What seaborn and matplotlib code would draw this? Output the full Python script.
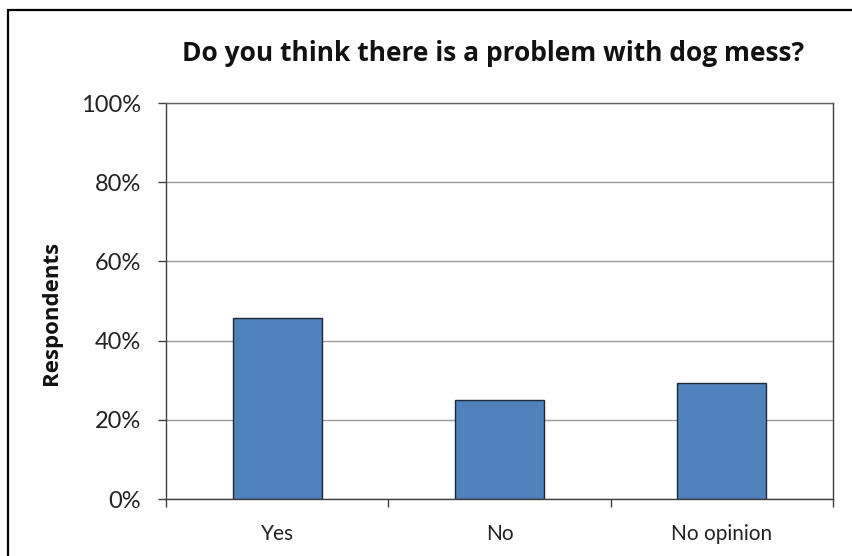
import matplotlib
matplotlib.use("Agg")
import matplotlib.pyplot as plt
import matplotlib.ticker as mticker
from matplotlib.patches import Rectangle
import seaborn as sns
import pandas as pd

categories = ["Yes", "No", "No opinion"]
values = [45.8, 25.0, 29.2]
yticks = [0, 20, 40, 60, 80, 100]
title = "Do you think there is a problem with dog mess?"
ylabel = "Respondents"

sns.set_theme(style="white")
plt.rcParams['font.family'] = ['Lato', 'DejaVu Sans']

df = pd.DataFrame({"cat": categories, "val": values})

fig = plt.figure(figsize=(8.52, 5.56), dpi=100)
ax = fig.add_axes([166/852, 1-499/556, (833-166)/852, (499-103)/556])

sns.barplot(data=df, x="cat", y="val", ax=ax, color="#4F81BD", width=0.4,
            edgecolor="#1e2a3a", linewidth=1.0, saturation=1)

ax.set_ylim(0, 100)
ax.set_xlim(-0.5, len(categories)-0.5)
ax.set_yticks(yticks)
ax.yaxis.set_major_formatter(mticker.FuncFormatter(lambda v, p: f"{int(v)}%"))
ax.yaxis.grid(True, color="#9a9a9a", linewidth=1.0)
ax.set_axisbelow(True)

ax.set_xticks(range(len(categories)))
ax.set_xticklabels(categories)
ax.set_xticks([i - 0.5 for i in range(len(categories)+1)], minor=True)
ax.tick_params(axis="x", which="major", length=0, pad=18, labelsize=15, colors="#222222")
ax.tick_params(axis="x", which="minor", length=6, width=1, color="#404040", direction="out", bottom=True)
ax.tick_params(axis="y", which="major", length=6, width=1, color="#404040", direction="out", left=True,
               labelsize=17, colors="#222222", pad=12)

for s in ax.spines.values():
    s.set_visible(True)
    s.set_color("#404040")
    s.set_linewidth(1.0)
ax.spines["top"].set_color("#606060")

ax.set_xlabel("")
ax.set_ylabel("")
fig.text(52/852, 1-313/556, ylabel, rotation=90, ha="center", va="center",
         fontsize=16, fontweight="bold", color="#111111",
         family=["Open Sans", "DejaVu Sans"])
fig.text(493/852, 1-61/556, title, ha="center", va="baseline", fontsize=19,
         fontweight="bold", color="#111111", family=["Open Sans", "DejaVu Sans"])

fig.patches.append(Rectangle((8/852, -0.1), 1.2, 1.1 - 10/556,
                             transform=fig.transFigure, fill=False,
                             edgecolor="black", linewidth=1.6, zorder=10))

fig.savefig("out.png", dpi=100)
